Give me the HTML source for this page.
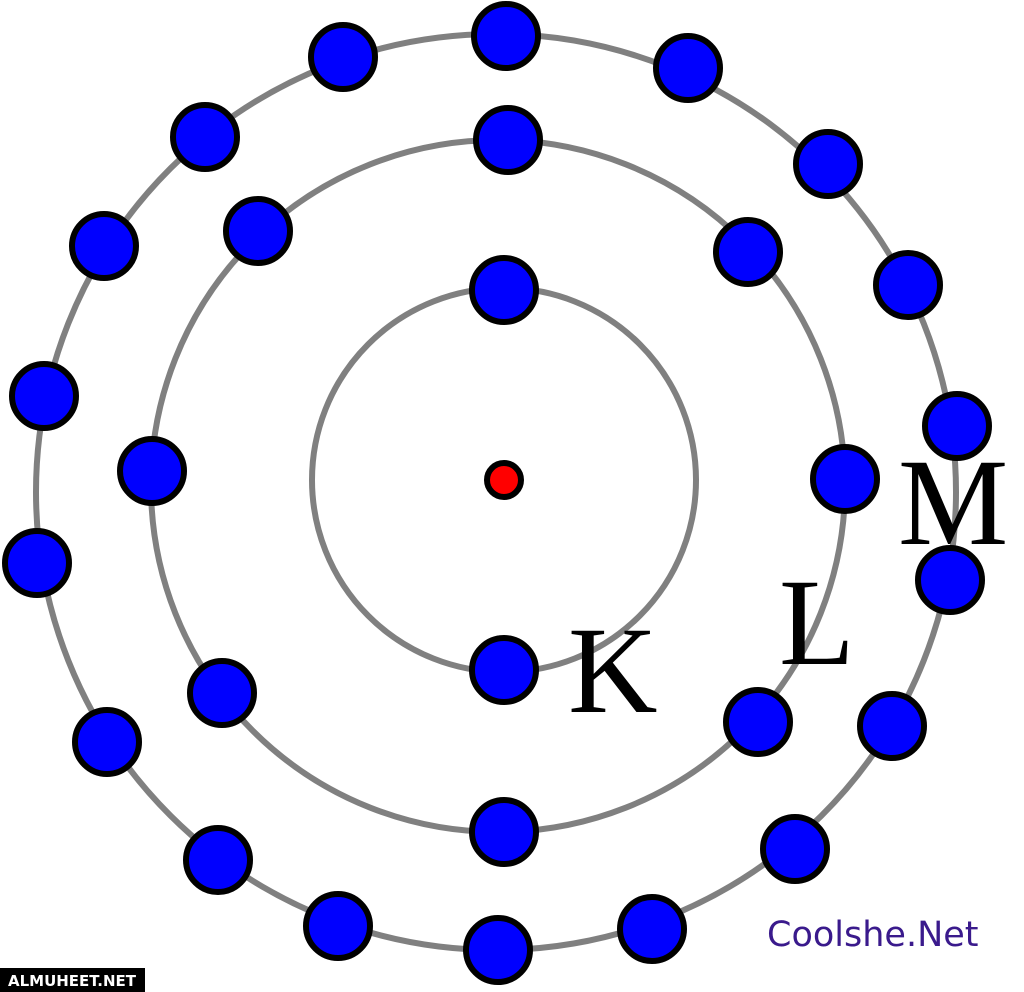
<!DOCTYPE html>
<html><head><meta charset="utf-8"><style>
html,body{margin:0;padding:0;background:#fff;width:1024px;height:992px;overflow:hidden}
</style></head><body>
<svg width="1024" height="992" viewBox="0 0 1024 992" xmlns="http://www.w3.org/2000/svg">
<g fill="none" stroke="#808080" stroke-width="6">
<circle cx="504" cy="480" r="192"/>
<ellipse cx="498" cy="486" rx="347" ry="346"/>
<ellipse cx="496" cy="492" rx="460" ry="458"/>
</g>
<g fill="#0000ff" stroke="#000" stroke-width="6">
<circle cx="504" cy="290" r="32"/><circle cx="504" cy="670" r="32"/>
<circle cx="508" cy="140" r="32"/><circle cx="258" cy="231" r="32"/><circle cx="152" cy="471" r="32"/><circle cx="222" cy="693" r="32"/><circle cx="504" cy="832" r="32"/><circle cx="758" cy="722" r="32"/><circle cx="845" cy="479" r="32"/><circle cx="748" cy="252" r="32"/>
<circle cx="506" cy="36" r="32"/><circle cx="343" cy="57" r="32"/><circle cx="205" cy="137" r="32"/><circle cx="104" cy="246" r="32"/><circle cx="44" cy="396" r="32"/><circle cx="37" cy="563" r="32"/><circle cx="107" cy="742" r="32"/><circle cx="218" cy="860" r="32"/><circle cx="338" cy="926" r="32"/><circle cx="498" cy="950" r="32"/><circle cx="652" cy="929" r="32"/><circle cx="795" cy="849" r="32"/><circle cx="892" cy="726" r="32"/><circle cx="950" cy="580" r="32"/><circle cx="957" cy="426" r="32"/><circle cx="908" cy="285" r="32"/><circle cx="828" cy="164" r="32"/><circle cx="688" cy="68" r="32"/>
</g>
<circle cx="504" cy="480" r="17" fill="#ff0000" stroke="#000" stroke-width="6"/>
<g font-family="'Liberation Serif',serif" fill="#000">
<text x="568" y="712" font-size="124">K</text>
<text x="779" y="664" font-size="124">L</text>
<text x="898" y="544" font-size="124">M</text>
</g>
<text x="767" y="946" font-family="'DejaVu Sans','Liberation Sans',sans-serif" font-size="35" fill="#3a1a8c">Coolshe.Net</text>
<rect x="0" y="968" width="145" height="24" fill="#000"/>
<text x="72" y="986" text-anchor="middle" font-family="'DejaVu Sans','Liberation Sans',sans-serif" font-weight="bold" font-size="15" fill="#fff">ALMUHEET.NET</text>
</svg>
</body></html>
